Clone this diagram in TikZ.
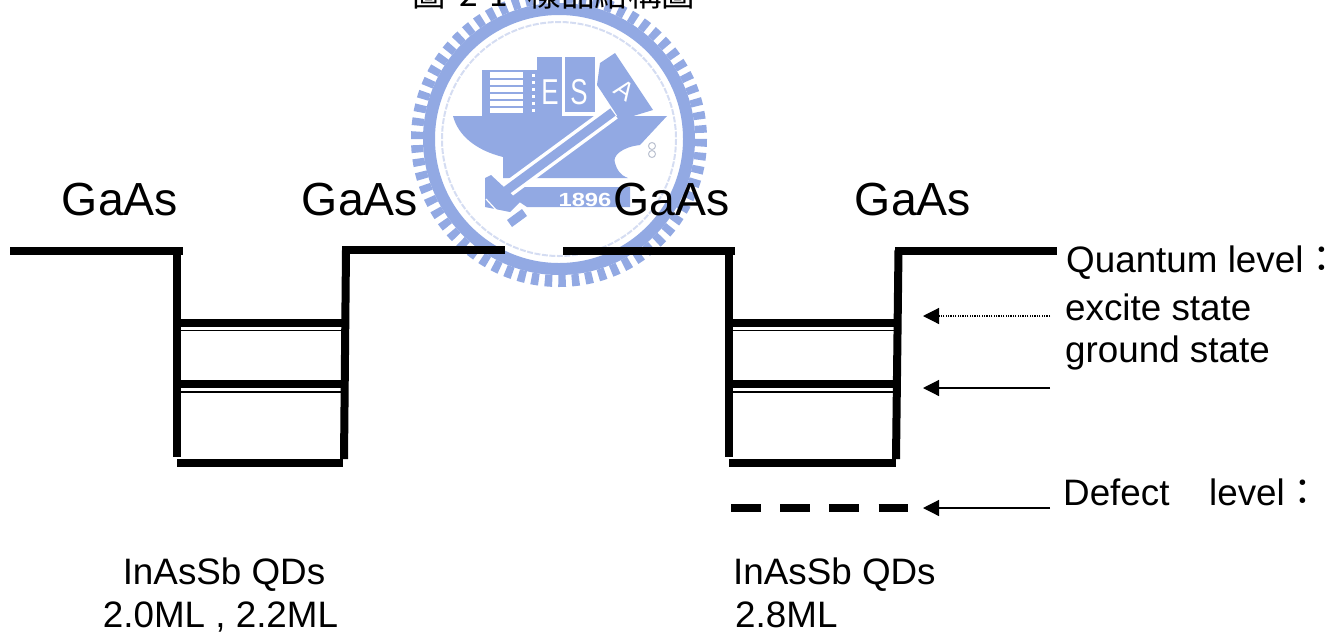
\documentclass[tikz,border=0pt]{standalone}
\usepackage{fontspec}
\setmainfont{Liberation Sans}
\newfontfamily\cjk{Noto Sans CJK TC}
\usetikzlibrary{arrows.meta}
\definecolor{logo}{HTML}{92A9E3}
\definecolor{logolt}{HTML}{D5DDF2}
\tikzset{
  wall/.style={line width=8pt,black},
  thinlvl/.style={line width=1.8pt,black},
  ptr/.style={line width=1.2pt,-{Triangle[length=16pt,width=16pt]}},
  big/.style={font=\fontsize{46.4}{50}\selectfont,inner sep=0pt,anchor=base},
  small/.style={font=\fontsize{36.8}{40}\selectfont,inner sep=0pt,anchor=base west},
  smallc/.style={font=\fontsize{36.8}{40}\selectfont,inner sep=0pt,anchor=base},
}
\begin{document}
\begin{tikzpicture}[x=1pt,y=-1pt]
\useasboundingbox (0,0) rectangle (1339,633);
\clip (0,0) rectangle (1339,633);
% logo ring
\draw[logo,line width=12pt,dash pattern=on 7.5pt off 6.018pt] (559,139) circle (142);
\draw[logo,line width=12pt] (559,139) circle (130);
\draw[logolt,line width=2pt,dash pattern=on 6pt off 1.5pt] (559,139) circle (117);
% ship
\fill[logo] (453,116) -- (667,116) -- (640,145) .. controls (622,147) and (612,156) .. (615,163) .. controls (617,170) and (620,175) .. (628,178) -- (537,178) -- (503,178) -- (503,157) .. controls (475,150) and (458,135) .. (453,116) -- cycle;
\fill[logo] (482,70) rectangle (537,117);
\fill[logo] (537,57) rectangle (562,117);
\fill[logo] (565,57) rectangle (595,112);
\fill[logo] (600,63) -- (615,53) -- (653,110) -- (620,120) -- (597,85) -- cycle;
\fill[logo] (520,187) -- (630,187) -- (630,207) -- (527,207) -- (512,197) -- cycle;
\fill[white] (490,72) rectangle (523,113);
\foreach \yy in {78,85,92,99,106} \fill[logo] (490,\yy) rectangle (523,\yy+2.2);
\foreach \yy in {74,81,88,95,102,109} \fill[white] (532,\yy) rectangle (535,\yy+2.5);
% sword
\draw[white,line width=16pt] (613,112) -- (507,190);
\draw[logo,line width=9pt] (613,112) -- (503,193);
\fill[logo] (485,178) -- (491,175) -- (520,202) -- (510,212) -- (485,207) -- cycle;
\fill[logo] (507,220) -- (522,209) -- (527,216) -- (512,227) -- cycle;
\draw[white,line width=1.2pt] (486,199) -- (498,212);
% rope
\draw[logolt!70!gray,line width=1pt] (652,146) circle (3.5);
\draw[logolt!70!gray,line width=1pt] (652,154) circle (3.5);
% logo lettering
\node[white,font=\bfseries\fontsize{19}{19}\selectfont,inner sep=0pt,xscale=1.25] (yr) at (585,200) {1896};
\node[white,font=\fontsize{36}{36}\selectfont,inner sep=0pt,xscale=.72] (le) at (550,92) {E};
\node[white,font=\fontsize{36}{36}\selectfont,inner sep=0pt,xscale=.72] (ls) at (579,92) {S};
\node[white,font=\fontsize{26}{26}\selectfont,inner sep=0pt,rotate=-35] (la) at (625,90) {A};
% title
\node[font=\cjk\fontsize{33.5}{33.5}\selectfont,inner sep=0pt,anchor=base west] (title) at (412,6) {圖\hspace{14pt}2-1\hspace{19pt}樣品結構圖};
% left well
\draw[wall] (10,251) -- (183,251);
\draw[wall] (177,250) -- (177,457);
\draw[wall] (346,250) -- (344,459);
\draw[wall] (342,250) -- (505,250);
\draw[wall] (177,462.5) -- (343,462.5);
\draw[wall] (180,323) -- (343,323);
\draw[thinlvl] (180,330.5) -- (343,330.5);
\draw[wall] (180,384) -- (343,384);
\draw[thinlvl] (180,391.8) -- (343,391.8);
% right well
\draw[wall] (563,251) -- (735,251);
\draw[wall] (729,250) -- (729,457);
\draw[wall] (898.5,250) -- (896,459);
\draw[wall] (895,250.5) -- (1057,250.5);
\draw[wall] (729,462.5) -- (896,462.5);
\draw[wall] (732,323) -- (895,323);
\draw[thinlvl] (732,330.5) -- (895,330.5);
\draw[wall] (732,384) -- (895,384);
\draw[thinlvl] (732,391.8) -- (895,391.8);
\draw[line width=8pt,dash pattern=on 29.7pt off 19.5pt] (731,508) -- (908.5,508);
% labels
\node[big] (g1) at (120,215) {GaAs};
\node[big] (g2) at (360,215) {GaAs};
\node[big] (g3) at (671.5,215) {GaAs};
\node[big] (g4) at (913,215) {GaAs};
\node[small] (q) at (1066,272) {Quantum level{\cjk ：}};
\node[small] (e) at (1065,320) {excite state};
\node[small] (gs) at (1065,362) {ground state};
\node[small] (d) at (1063,505) {Defect\hspace{.8em} level{\cjk ：}};
\node[smallc] (l1) at (224,584) {InAsSb QDs};
\node[smallc] (l1b) at (220.5,627) {2.0ML , 2.2ML};
\node[small] (l2) at (733,584) {InAsSb QDs};
\node[small] (l2b) at (735,627) {2.8ML};
% arrows
\coordinate (a1s) at (1050,316); \coordinate (a1e) at (923,316);
\coordinate (a2s) at (1050,388); \coordinate (a2e) at (923,388);
\coordinate (a3s) at (1050,508); \coordinate (a3e) at (923,508);
\draw[ptr,dash pattern=on 1.2pt off 1.2pt] (a1s) -- (a1e);
\draw[ptr] (a2s) -- (a2e);
\draw[ptr] (a3s) -- (a3e);
\end{tikzpicture}
\end{document}
